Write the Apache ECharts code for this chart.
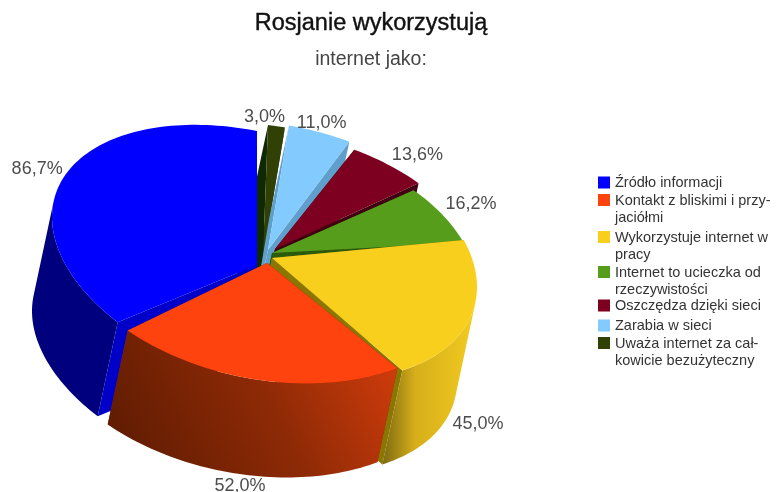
<!DOCTYPE html>
<html>
<head>
<meta charset="utf-8">
<style>
  html, body { margin: 0; background: #fff; }
  #main { width: 779px; height: 492px; }
</style>
<script src="https://cdn.jsdelivr.net/npm/echarts@6/dist/echarts.min.js"></script>
</head>
<body>
<div id="main"></div>
<script>
const sliceNames = [
  'Źródło informacji',
  'Kontakt z bliskimi i przy-\njaciółmi',
  'Wykorzystuje internet w\npracy',
  'Internet to ucieczka od\nrzeczywistości',
  'Oszczędza dzięki sieci',
  'Zarabia w sieci',
  'Uważa internet za cał-\nkowicie bezużyteczny'
]
const sliceValues = [86.7, 52.0, 45.0, 16.2, 13.6, 11.0, 3.0]

// kolory
const topColors = ['#0000ff', '#ff430e', '#f9cf1e', '#579d1c', '#7e0021', '#83caff', '#314004']
const sideColors = ['#0000c8', '#7a2404', '#8a7600', '#2c5a0c', '#40000f', '#5f9fcc', '#0f2a00']
const LG = echarts.graphic.LinearGradient
const wallColors = [
  '#00007e',
  new LG(0, 1, 1, 0, [
    { offset: 0, color: '#5a1a02' },
    { offset: 0.55, color: '#8e2a06' },
    { offset: 1, color: '#d83e0c' }
  ]),
  new LG(0, 0, 1, 0, [
    { offset: 0, color: '#7d6a10' },
    { offset: 0.35, color: '#d6ae1a' },
    { offset: 1, color: '#f2cb20' }
  ]),
  '#2c5a0c',
  '#40000f',
  '#5f9fcc',
  '#0f2a00'
]

// uklad kawalkow: wierzcholek, przesuniecie krawedzi, pochylenie elipsy
const drawOrder = [5, 7, 6, 4, 3, 2, 1]
const apexX = [257, 267, 272, 272, 275, 268, 263]
const apexY = [265, 263, 258, 253, 249, 250, 258]
const rimShiftX = [-8, 2, 7, 7, 12, 7, 3]
const rimShiftY = [0, -2, -8, 7, 0, -8, -6]
const rimTilt = [40, 25, 38, 25, 25, 25, 25]
const labelShiftX = [-29, -21, 8, 28, 29, 2, -12]
const labelShiftY = [-5, 106, 106, -11, -10, -9, -9]
const legendTops = [174, 192, 229, 264, 297, 317, 335]

const centerX = 265
const centerY = 257
const radiusX = 205
const radiusY = 126
const depthX = -20
const depthY = 94

const total = sliceValues.reduce((a, b) => a + b, 0)
const rad = (d) => (d * Math.PI) / 180

// katy liczone od gory, zgodnie z zegarem; pierwszy kawalek konczy sie na 360
const sliceEnds = []
sliceValues.reduce((acc, v) => {
  sliceEnds.push(acc)
  return acc - (v / total) * 360
}, 360)

const rimPoint = (i, deg) => [
  centerX + rimShiftX[i] + radiusX * Math.sin(rad(deg)),
  centerY + rimShiftY[i] - radiusY * Math.cos(rad(deg)) + rimTilt[i] * Math.sin(rad(deg))
]
const sink = (p) => [p[0] + depthX, p[1] + depthY]

const arc = (i, from, to) => {
  const pts = []
  for (let d = from; d < to; d += 1.5) pts.push(rimPoint(i, d))
  pts.push(rimPoint(i, to))
  return pts
}

const renderSlice = (params, api) => {
  const i = params.seriesIndex
  const value = api.value(0)
  const end = sliceEnds[i]
  const start = end - (value / total) * 360
  const apex = [apexX[i], apexY[i]]
  const rim = arc(i, start, end)
  const first = rim[0]
  const last = rim[rim.length - 1]
  const poly = (points, fill) => ({
    type: 'polygon',
    shape: { points },
    style: { fill }
  })
  // sciana zewnetrzna tylko tam, gdzie krawedz jest z przodu
  const tangent =
    (Math.atan2(radiusX * depthY - rimTilt[i] * depthX, radiusY * depthX) * 180) / Math.PI
  const wallFrom = Math.max(start, tangent)
  const wallTo = Math.min(end, tangent + 180)
  const children = [
    poly([apex, last, sink(last), sink(apex)], sideColors[i]),
    poly([apex, first, sink(first), sink(apex)], sideColors[i])
  ]
  if (wallTo > wallFrom) {
    const wall = arc(i, wallFrom, wallTo)
    children.push(poly(wall.concat(wall.map(sink).reverse()), wallColors[i]))
  }
  const mid = rimPoint(i, (start + end) / 2)
  children.push(poly([apex].concat(rim), topColors[i]), {
    type: 'text',
    style: {
      text: value.toFixed(1).replace('.', ',') + '%',
      x: mid[0] + labelShiftX[i],
      y: mid[1] + labelShiftY[i],
      align: 'center',
      verticalAlign: 'middle',
      fontFamily: 'Liberation Sans',
      fontSize: 18,
      fill: '#4d4d4d'
    }
  })
  return { type: 'group', children }
}

const chart = echarts.init(document.getElementById('main'))
chart.setOption({
  animation: false,
  backgroundColor: '#fff',
  title: {
    text: 'Rosjanie wykorzystują',
    subtext: 'internet jako:',
    left: 366,
    top: 7,
    textAlign: 'center',
    itemGap: 13,
    textStyle: {
      fontFamily: 'Liberation Sans',
      fontSize: 23.5,
      fontWeight: 'normal',
      color: '#111',
      textBorderColor: '#111',
      textBorderWidth: 0.4
    },
    subtextStyle: { fontFamily: 'Liberation Sans', fontSize: 19.5, color: '#444' }
  },
  legend: sliceNames.map((name, i) => {
    const twoLines = name.includes('\n')
    return {
      data: [name],
      orient: 'vertical',
      left: 598,
      top: legendTops[i],
      padding: 0,
      itemWidth: 12,
      itemHeight: twoLines ? 34 : 12,
      itemGap: 0,
      icon: twoLines ? 'path://M0 2H12V14H0ZM0 0L0 0M0 34L0 34' : 'rect',
      selectedMode: false,
      textStyle: {
        fontFamily: 'Liberation Sans',
        fontSize: 14.5,
        lineHeight: 17,
        color: '#333'
      }
    }
  }),
  series: sliceNames.map((name, i) => ({
    name,
    type: 'custom',
    coordinateSystem: 'none',
    z: drawOrder[i],
    silent: true,
    itemStyle: { color: topColors[i] },
    renderItem: renderSlice,
    data: [[sliceValues[i]]]
  }))
})
</script>
</body>
</html>
